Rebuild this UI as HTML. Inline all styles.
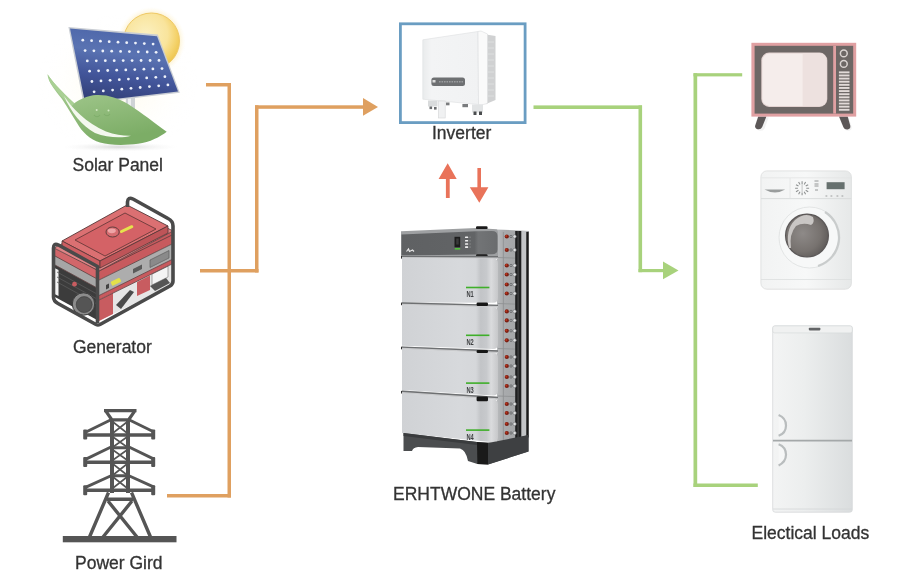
<!DOCTYPE html>
<html><head><meta charset="utf-8">
<style>
html,body{margin:0;padding:0;background:#fff;}
body{width:900px;height:580px;overflow:hidden;position:relative;}
svg{position:absolute;left:0;top:0;}
text{font-family:"Liberation Sans",sans-serif;font-size:17.5px;fill:#333;stroke:#333;stroke-width:0.3px;}
svg{will-change:transform;}
</style></head>
<body>
<svg width="900" height="580" viewBox="0 0 900 580">
<!-- orange lines -->
<g fill="#DFA060">
<rect x="206" y="83" width="25" height="3.5"/>
<rect x="227.5" y="83" width="3.5" height="414.5"/>
<rect x="167" y="494" width="64" height="3.5"/>
<rect x="200" y="269" width="58.5" height="3.5"/>
<rect x="255" y="105.3" width="3.5" height="167.2"/>
<rect x="255" y="105.3" width="110" height="3.5"/>
<polygon points="363,98 378,107 363,115.8"/>
</g>
<!-- green lines -->
<g fill="#A8D27C">
<rect x="533.5" y="105.4" width="108.5" height="3.6"/>
<rect x="638.5" y="105.4" width="3.6" height="166.8"/>
<rect x="638.5" y="269" width="26" height="3.2"/>
<polygon points="663,261.5 678.5,270.6 663,279.3"/>
<rect x="693.5" y="73.2" width="3.7" height="413.8"/>
<rect x="693.5" y="73.2" width="48.7" height="3.2"/>
<rect x="693.5" y="483.5" width="64.3" height="3.5"/>
</g>
<!-- red arrows -->
<g fill="#E9735A">
<polygon points="447.7,163.2 456.7,179.1 449.7,179.1 449.7,198.1 445.9,198.1 445.9,179.1 438.6,179.1"/>
<polygon points="477.4,168.1 481,168.1 481,187.3 488.4,187.3 479.3,202.8 469.8,187.3 477.4,187.3"/>
</g>
<!-- inverter box -->
<rect x="400.4" y="23.8" width="124.7" height="98.8" fill="none" stroke="#6A9DC2" stroke-width="2.8"/>
<!-- tower -->
<g stroke="#555" fill="none" stroke-linecap="butt">
<path d="M104,410.6 H136.5 M105.5,410.6 L112,420 M135,410.6 L128.5,420 M111,419.8 H129.5" stroke-width="3.2"/>
<path d="M112,419 V493 M128,419 V493" stroke-width="4"/>
<path d="M113,422 L127,433 M127,422 L113,433 M113,437 L127,447 M127,437 L113,447 M113,450 L127,460 M127,450 L113,460 M113,464 L127,475 M127,464 L113,475 M113,477 L127,488 M127,477 L113,488" stroke-width="1.6"/>
<path d="M84,435 H155 M84,462.2 H155 M84,490.3 H155" stroke-width="3.6"/>
<path d="M86,432 L111.5,419.5 M154,432 L128.5,419.5 M86,459.2 L111,447 M154,459.2 L129,447 M86,487.2 L110.5,476 M154,487.2 L129.5,476 M111,447.8 H129 M111,475.8 H129" stroke-width="3"/>
<path d="M108.5,492.5 L89.5,537 M131.5,492.5 L150.5,537 M107,499.3 H133 M108,501 L137,537 M132,501 L103,537" stroke-width="3.4"/>
</g>
<g fill="#555">
<rect x="83.2" y="429.6" width="4" height="10" rx="1"/><rect x="151.2" y="429.6" width="4" height="10" rx="1"/>
<rect x="83.2" y="457" width="4" height="10" rx="1"/><rect x="151.2" y="457" width="4" height="10" rx="1"/>
<rect x="83.2" y="485.2" width="4" height="10" rx="1"/><rect x="151.2" y="485.2" width="4" height="10" rx="1"/>
<rect x="62.8" y="536" width="113.7" height="6.3"/>
</g>
<!-- battery -->
<defs>
<linearGradient id="modg" x1="0" x2="1" y1="0" y2="0">
<stop offset="0" stop-color="#D0D2D5"/><stop offset="0.6" stop-color="#D7D9DC"/><stop offset="0.77" stop-color="#D5D7DA"/><stop offset="0.82" stop-color="#C2C4C7"/><stop offset="0.88" stop-color="#C7C9CC"/><stop offset="0.93" stop-color="#DADBDD"/><stop offset="1" stop-color="#C6C7C9"/>
</linearGradient>
<linearGradient id="topg" x1="0" x2="1" y1="0" y2="0">
<stop offset="0" stop-color="#5F6163"/><stop offset="0.76" stop-color="#626466"/><stop offset="0.8" stop-color="#727476"/><stop offset="1" stop-color="#6A6C6E"/>
</linearGradient>
<linearGradient id="sideg" x1="0" x2="1" y1="0" y2="0">
<stop offset="0" stop-color="#B9BBBD"/><stop offset="0.2" stop-color="#A9ABAD"/><stop offset="1" stop-color="#9FA1A3"/>
</linearGradient>
</defs>

<polygon points="497,229.5 529,231 529,438 497,444" fill="url(#sideg)"/>
<rect x="515.2" y="231" width="6.3" height="207" fill="#1E1F20"/>
<rect x="517.3" y="231" width="1.6" height="207" fill="#3A3B3C"/>
<rect x="521.5" y="231" width="5" height="206" fill="#C3C5C7"/>
<rect x="526.3" y="232" width="2.3" height="205" fill="#1A1A1A"/>
<line x1="498" y1="257.5" x2="515" y2="258.1" stroke="#8E9092" stroke-width="0.8"/>
<line x1="498" y1="303.5" x2="515" y2="304.1" stroke="#8E9092" stroke-width="0.8"/>
<line x1="498" y1="348.5" x2="515" y2="349.1" stroke="#8E9092" stroke-width="0.8"/>
<line x1="498" y1="396" x2="515" y2="396.6" stroke="#8E9092" stroke-width="0.8"/>
<line x1="498" y1="442" x2="515" y2="442.6" stroke="#8E9092" stroke-width="0.8"/>
<line x1="503.4" y1="232" x2="503.4" y2="442" stroke="#8F9193" stroke-width="0.8"/>
<circle cx="506.8" cy="236.5" r="2.1" fill="#7A1E12"/><circle cx="506.3" cy="236.1" r="1.1" fill="#B8361E"/>
<circle cx="511" cy="236.5" r="1.2" fill="none" stroke="#5A5C5E" stroke-width="0.7"/><circle cx="514.6" cy="236.5" r="1.7" fill="#E2E3E4" stroke="#6A6C6E" stroke-width="0.6"/>
<circle cx="506.8" cy="250.0" r="2.1" fill="#7A1E12"/><circle cx="506.3" cy="249.6" r="1.1" fill="#B8361E"/>
<circle cx="511" cy="250.0" r="1.2" fill="none" stroke="#5A5C5E" stroke-width="0.7"/><circle cx="514.6" cy="250.0" r="1.7" fill="#E2E3E4" stroke="#6A6C6E" stroke-width="0.6"/>
<circle cx="506.8" cy="265.5" r="2.1" fill="#7A1E12"/><circle cx="506.3" cy="265.1" r="1.1" fill="#B8361E"/>
<circle cx="511" cy="265.5" r="1.2" fill="none" stroke="#5A5C5E" stroke-width="0.7"/><circle cx="514.6" cy="265.5" r="1.7" fill="#E2E3E4" stroke="#6A6C6E" stroke-width="0.6"/>
<circle cx="506.8" cy="274.5" r="2.1" fill="#7A1E12"/><circle cx="506.3" cy="274.1" r="1.1" fill="#B8361E"/>
<circle cx="511" cy="274.5" r="1.2" fill="none" stroke="#5A5C5E" stroke-width="0.7"/><circle cx="514.6" cy="274.5" r="1.7" fill="#E2E3E4" stroke="#6A6C6E" stroke-width="0.6"/>
<circle cx="506.8" cy="284.5" r="2.1" fill="#7A1E12"/><circle cx="506.3" cy="284.1" r="1.1" fill="#B8361E"/>
<circle cx="511" cy="284.5" r="1.2" fill="none" stroke="#5A5C5E" stroke-width="0.7"/><circle cx="514.6" cy="284.5" r="1.7" fill="#E2E3E4" stroke="#6A6C6E" stroke-width="0.6"/>
<circle cx="506.8" cy="293.5" r="2.1" fill="#7A1E12"/><circle cx="506.3" cy="293.1" r="1.1" fill="#B8361E"/>
<circle cx="511" cy="293.5" r="1.2" fill="none" stroke="#5A5C5E" stroke-width="0.7"/><circle cx="514.6" cy="293.5" r="1.7" fill="#E2E3E4" stroke="#6A6C6E" stroke-width="0.6"/>
<circle cx="506.8" cy="311.4" r="2.1" fill="#7A1E12"/><circle cx="506.3" cy="311.0" r="1.1" fill="#B8361E"/>
<circle cx="511" cy="311.4" r="1.2" fill="none" stroke="#5A5C5E" stroke-width="0.7"/><circle cx="514.6" cy="311.4" r="1.7" fill="#E2E3E4" stroke="#6A6C6E" stroke-width="0.6"/>
<circle cx="506.8" cy="320.4" r="2.1" fill="#7A1E12"/><circle cx="506.3" cy="320.0" r="1.1" fill="#B8361E"/>
<circle cx="511" cy="320.4" r="1.2" fill="none" stroke="#5A5C5E" stroke-width="0.7"/><circle cx="514.6" cy="320.4" r="1.7" fill="#E2E3E4" stroke="#6A6C6E" stroke-width="0.6"/>
<circle cx="506.8" cy="330.8" r="2.1" fill="#7A1E12"/><circle cx="506.3" cy="330.40000000000003" r="1.1" fill="#B8361E"/>
<circle cx="511" cy="330.8" r="1.2" fill="none" stroke="#5A5C5E" stroke-width="0.7"/><circle cx="514.6" cy="330.8" r="1.7" fill="#E2E3E4" stroke="#6A6C6E" stroke-width="0.6"/>
<circle cx="506.8" cy="340.3" r="2.1" fill="#7A1E12"/><circle cx="506.3" cy="339.90000000000003" r="1.1" fill="#B8361E"/>
<circle cx="511" cy="340.3" r="1.2" fill="none" stroke="#5A5C5E" stroke-width="0.7"/><circle cx="514.6" cy="340.3" r="1.7" fill="#E2E3E4" stroke="#6A6C6E" stroke-width="0.6"/>
<circle cx="506.8" cy="357" r="2.1" fill="#7A1E12"/><circle cx="506.3" cy="356.6" r="1.1" fill="#B8361E"/>
<circle cx="511" cy="357" r="1.2" fill="none" stroke="#5A5C5E" stroke-width="0.7"/><circle cx="514.6" cy="357" r="1.7" fill="#E2E3E4" stroke="#6A6C6E" stroke-width="0.6"/>
<circle cx="506.8" cy="366" r="2.1" fill="#7A1E12"/><circle cx="506.3" cy="365.6" r="1.1" fill="#B8361E"/>
<circle cx="511" cy="366" r="1.2" fill="none" stroke="#5A5C5E" stroke-width="0.7"/><circle cx="514.6" cy="366" r="1.7" fill="#E2E3E4" stroke="#6A6C6E" stroke-width="0.6"/>
<circle cx="506.8" cy="377" r="2.1" fill="#7A1E12"/><circle cx="506.3" cy="376.6" r="1.1" fill="#B8361E"/>
<circle cx="511" cy="377" r="1.2" fill="none" stroke="#5A5C5E" stroke-width="0.7"/><circle cx="514.6" cy="377" r="1.7" fill="#E2E3E4" stroke="#6A6C6E" stroke-width="0.6"/>
<circle cx="506.8" cy="386" r="2.1" fill="#7A1E12"/><circle cx="506.3" cy="385.6" r="1.1" fill="#B8361E"/>
<circle cx="511" cy="386" r="1.2" fill="none" stroke="#5A5C5E" stroke-width="0.7"/><circle cx="514.6" cy="386" r="1.7" fill="#E2E3E4" stroke="#6A6C6E" stroke-width="0.6"/>
<circle cx="506.8" cy="404" r="2.1" fill="#7A1E12"/><circle cx="506.3" cy="403.6" r="1.1" fill="#B8361E"/>
<circle cx="511" cy="404" r="1.2" fill="none" stroke="#5A5C5E" stroke-width="0.7"/><circle cx="514.6" cy="404" r="1.7" fill="#E2E3E4" stroke="#6A6C6E" stroke-width="0.6"/>
<circle cx="506.8" cy="413" r="2.1" fill="#7A1E12"/><circle cx="506.3" cy="412.6" r="1.1" fill="#B8361E"/>
<circle cx="511" cy="413" r="1.2" fill="none" stroke="#5A5C5E" stroke-width="0.7"/><circle cx="514.6" cy="413" r="1.7" fill="#E2E3E4" stroke="#6A6C6E" stroke-width="0.6"/>
<circle cx="506.8" cy="424" r="2.1" fill="#7A1E12"/><circle cx="506.3" cy="423.6" r="1.1" fill="#B8361E"/>
<circle cx="511" cy="424" r="1.2" fill="none" stroke="#5A5C5E" stroke-width="0.7"/><circle cx="514.6" cy="424" r="1.7" fill="#E2E3E4" stroke="#6A6C6E" stroke-width="0.6"/>
<circle cx="506.8" cy="433" r="2.1" fill="#7A1E12"/><circle cx="506.3" cy="432.6" r="1.1" fill="#B8361E"/>
<circle cx="511" cy="433" r="1.2" fill="none" stroke="#5A5C5E" stroke-width="0.7"/><circle cx="514.6" cy="433" r="1.7" fill="#E2E3E4" stroke="#6A6C6E" stroke-width="0.6"/>
<polygon points="401,231.3 476,228 497,229.3 498,232 498,256 401,257" fill="#9EA0A2"/>
<path d="M401.5,234.4 L476,231.2 L492,231 Q497.5,231 497.5,236 L497.5,249.5 Q497.5,254.2 492,254.2 L401.5,255.6 Z" fill="url(#topg)"/>
<rect x="476" y="226.3" width="11.6" height="2.8" rx="1.2" fill="#1A1A1A"/>
<rect x="476" y="254.3" width="11.6" height="3.4" rx="1.2" fill="#1A1A1A"/>
<rect x="454.5" y="236.8" width="5.7" height="10.5" fill="#1C1C1C"/><rect x="456.2" y="238.5" width="2.5" height="6" fill="#3A3A3A"/>
<rect x="454.8" y="248" width="5.4" height="1.6" fill="#55C040"/>
<rect x="465" y="236.4" width="3.2" height="1.6" rx="0.6" fill="#F0F0F0"/><rect x="469.5" y="236.6" width="1.2" height="1.2" fill="#8A8C8E"/>
<rect x="465" y="240.0" width="3.2" height="1.6" rx="0.6" fill="#F0F0F0"/><rect x="469.5" y="240.2" width="1.2" height="1.2" fill="#8A8C8E"/>
<rect x="465" y="243.2" width="3.2" height="1.6" rx="0.6" fill="#F0F0F0"/><rect x="469.5" y="243.39999999999998" width="1.2" height="1.2" fill="#8A8C8E"/>
<rect x="465" y="246.3" width="3.2" height="1.6" rx="0.6" fill="#F0F0F0"/><rect x="469.5" y="246.5" width="1.2" height="1.2" fill="#8A8C8E"/>
<path d="M406.5,251.5 l2,-2.5 l1,2.5 l3,-1.5 l1.5,1.5" stroke="#E8E8E8" stroke-width="1.2" fill="none"/>
<rect x="401.0" y="256.0" width="1.6" height="2.6" fill="#333"/>
<polygon points="402.0,255.70000000000002 498.0,256.0 498.0,259.1 402.0,258.8" fill="#C9CACC"/>
<polygon points="402.0,255.70000000000002 498.0,256.0 498.0,257.40000000000003 402.0,257.1" fill="#6E7072"/>
<path d="M402.0,258.3 L493.0,258.6 Q498.0,258.6 498.0,263.6 L498.0,297.8 Q498.0,302.8 493.0,302.8 L402.0,302.4 Z" fill="url(#modg)"/>
<rect x="466" y="286.7" width="23.4" height="1.6" fill="#3FAF2A"/>
<text x="466.5" y="297.0" textLength="7.3" lengthAdjust="spacingAndGlyphs" style="font-size:8.3px;font-weight:bold;fill:#404244;stroke:none">N1</text>
<rect x="401.0" y="302.59999999999997" width="1.6" height="2.6" fill="#333"/>
<polygon points="402.0,302.29999999999995 498.0,304.7 498.0,307.8 402.0,305.4" fill="#C9CACC"/>
<polygon points="402.0,302.29999999999995 498.0,304.7 498.0,306.1 402.0,303.7" fill="#6E7072"/>
<path d="M402.0,304.9 L493.0,307.3 Q498.0,307.3 498.0,312.3 L498.0,344.1 Q498.0,349.1 493.0,349.1 L402.0,345.8 Z" fill="url(#modg)"/>
<rect x="466" y="334.5" width="23.4" height="1.6" fill="#3FAF2A"/>
<text x="466.5" y="344.8" textLength="7.3" lengthAdjust="spacingAndGlyphs" style="font-size:8.3px;font-weight:bold;fill:#404244;stroke:none">N2</text>
<rect x="401.0" y="346.7" width="1.6" height="2.6" fill="#333"/>
<polygon points="402.0,346.4 498.0,350.29999999999995 498.0,353.4 402.0,349.5" fill="#C9CACC"/>
<polygon points="402.0,346.4 498.0,350.29999999999995 498.0,351.7 402.0,347.8" fill="#6E7072"/>
<path d="M402.0,349.0 L493.0,352.9 Q498.0,352.9 498.0,357.9 L498.0,390.5 Q498.0,395.5 493.0,395.5 L402.0,389.9 Z" fill="url(#modg)"/>
<rect x="466" y="382.3" width="23.4" height="1.6" fill="#3FAF2A"/>
<text x="466.5" y="392.6" textLength="7.3" lengthAdjust="spacingAndGlyphs" style="font-size:8.3px;font-weight:bold;fill:#404244;stroke:none">N3</text>
<rect x="401.0" y="390.9" width="1.6" height="2.6" fill="#333"/>
<polygon points="402.0,390.59999999999997 498.0,396.79999999999995 498.0,399.9 402.0,393.7" fill="#C9CACC"/>
<polygon points="402.0,390.59999999999997 498.0,396.79999999999995 498.0,398.2 402.0,392.0" fill="#6E7072"/>
<path d="M402.0,393.2 L493.0,399.4 Q498.0,399.4 498.0,404.4 L498.0,437.2 Q498.0,442.2 493.0,442.2 L402.0,432.9 Z" fill="url(#modg)"/>
<rect x="466" y="429.3" width="23.4" height="1.6" fill="#3FAF2A"/>
<text x="466.5" y="439.6" textLength="7.3" lengthAdjust="spacingAndGlyphs" style="font-size:8.3px;font-weight:bold;fill:#404244;stroke:none">N4</text>
<rect x="476.6" y="302.6" width="11.4" height="3.4" rx="1.2" fill="#161616"/>
<rect x="476.6" y="350" width="11.4" height="2.9" rx="1.2" fill="#161616"/>
<rect x="476.6" y="396.5" width="11.4" height="4.7" rx="1.2" fill="#161616"/>
<path d="M403.5,433 L477,442 L497,443 L528.5,435 L528.5,451.5 L488,464.5 L477.4,464 L468,461 Q466,450 460,448.4 L418,446.9 Q413,447.5 412,451 L403.5,451 Z" fill="#4B4D4F"/>
<path d="M477,442 L488,443 L488,464.5 L477.4,464 Z" fill="#1A1A1A"/><path d="M488,443 L528.5,435 L528.5,451.5 L488,464.5 Z" fill="#3E4042"/>
<path d="M403.5,433 L477,442 L477,445 L403.5,436 Z" fill="#3A3C3E"/>
<!-- /battery -->
<!-- solar -->
<defs>
<radialGradient id="sunglow" cx="0.5" cy="0.5" r="0.5">
<stop offset="0.75" stop-color="#FBE9B0" stop-opacity="0.9"/><stop offset="1" stop-color="#FFF8E4" stop-opacity="0"/>
</radialGradient>
<radialGradient id="sung" cx="0.4" cy="0.38" r="0.65">
<stop offset="0" stop-color="#FBF0C0"/><stop offset="0.6" stop-color="#F9E49C"/><stop offset="0.85" stop-color="#F4D26A"/><stop offset="1" stop-color="#EEC650"/>
</radialGradient>
<linearGradient id="panelg" x1="0.35" y1="0" x2="0.15" y2="1">
<stop offset="0" stop-color="#4E67AA"/><stop offset="0.3" stop-color="#5A73B2"/><stop offset="0.62" stop-color="#42559A"/><stop offset="1" stop-color="#303C72"/>
</linearGradient>
<linearGradient id="leafg" x1="0" y1="0" x2="0.35" y2="1">
<stop offset="0" stop-color="#A8CE94"/><stop offset="0.45" stop-color="#97C082"/><stop offset="1" stop-color="#7CAD66"/>
</linearGradient>
<radialGradient id="bgglow" cx="0.5" cy="0.5" r="0.5"><stop offset="0" stop-color="#FFFBEA"/><stop offset="1" stop-color="#FFFFFF" stop-opacity="0"/></radialGradient>
<radialGradient id="shadowg" cx="0.5" cy="0.5" r="0.5">
<stop offset="0" stop-color="#D8D8D8"/><stop offset="1" stop-color="#F4F4F4" stop-opacity="0"/>
</radialGradient>
</defs>
<ellipse cx="118" cy="85" rx="80" ry="70" fill="url(#bgglow)"/>
<circle cx="151.5" cy="41" r="34" fill="url(#sunglow)"/>
<circle cx="151.5" cy="41" r="28" fill="url(#sung)" stroke="#EEC865" stroke-width="1"/>
<ellipse cx="120" cy="147" rx="58" ry="4.5" fill="url(#shadowg)"/>
<rect x="125.8" y="92" width="9.2" height="19" fill="#CFD3D6"/><rect x="128" y="92" width="3" height="19" fill="#EEF0F1"/>
<polygon points="68.4,27 157.8,34.6 179.8,92.8 83.6,104" fill="#C9CDD3"/>
<polygon points="70,28.6 157,36.2 178,91.4 85,102.4" fill="url(#panelg)"/>

<g fill="#EEF2FA"><circle cx="82.8" cy="40.2" r="1.4"/><circle cx="91.6" cy="40.7" r="1.4"/><circle cx="100.4" cy="41.2" r="1.4"/><circle cx="109.2" cy="41.7" r="1.4"/><circle cx="118.0" cy="42.2" r="1.4"/><circle cx="126.7" cy="42.7" r="1.4"/><circle cx="135.5" cy="43.1" r="1.4"/><circle cx="144.3" cy="43.6" r="1.4"/><circle cx="153.1" cy="44.1" r="1.4"/><circle cx="85.1" cy="50.6" r="1.4"/><circle cx="93.9" cy="50.8" r="1.4"/><circle cx="102.8" cy="51.0" r="1.4"/><circle cx="111.7" cy="51.2" r="1.4"/><circle cx="120.6" cy="51.4" r="1.4"/><circle cx="129.4" cy="51.6" r="1.4"/><circle cx="138.3" cy="51.8" r="1.4"/><circle cx="147.2" cy="52.0" r="1.4"/><circle cx="156.1" cy="52.3" r="1.4"/><circle cx="87.3" cy="60.9" r="1.4"/><circle cx="96.3" cy="60.8" r="1.4"/><circle cx="105.3" cy="60.7" r="1.4"/><circle cx="114.2" cy="60.7" r="1.4"/><circle cx="123.2" cy="60.6" r="1.4"/><circle cx="132.1" cy="60.6" r="1.4"/><circle cx="141.1" cy="60.5" r="1.4"/><circle cx="150.1" cy="60.5" r="1.4"/><circle cx="159.0" cy="60.4" r="1.4"/><circle cx="89.6" cy="71.2" r="1.4"/><circle cx="98.6" cy="70.8" r="1.4"/><circle cx="107.7" cy="70.5" r="1.4"/><circle cx="116.7" cy="70.2" r="1.4"/><circle cx="125.8" cy="69.9" r="1.4"/><circle cx="134.8" cy="69.6" r="1.4"/><circle cx="143.9" cy="69.2" r="1.4"/><circle cx="152.9" cy="68.9" r="1.4"/><circle cx="162.0" cy="68.6" r="1.4"/><circle cx="91.9" cy="81.5" r="1.4"/><circle cx="101.0" cy="80.9" r="1.4"/><circle cx="110.1" cy="80.3" r="1.4"/><circle cx="119.3" cy="79.7" r="1.4"/><circle cx="128.4" cy="79.1" r="1.4"/><circle cx="137.5" cy="78.5" r="1.4"/><circle cx="146.7" cy="77.9" r="1.4"/><circle cx="155.8" cy="77.3" r="1.4"/><circle cx="164.9" cy="76.7" r="1.4"/><circle cx="94.1" cy="91.8" r="1.4"/><circle cx="103.3" cy="90.9" r="1.4"/><circle cx="112.6" cy="90.1" r="1.4"/><circle cx="121.8" cy="89.2" r="1.4"/><circle cx="131.0" cy="88.3" r="1.4"/><circle cx="140.2" cy="87.5" r="1.4"/><circle cx="149.4" cy="86.6" r="1.4"/><circle cx="158.7" cy="85.8" r="1.4"/><circle cx="167.9" cy="84.9" r="1.4"/></g>
<path d="M47.5,74.2 C51,80 60,90 74.2,103.3 C80,99 88,95.5 96,95 C108,94.5 118,98 128,104 C142,113 156,124 166.7,131.7 C160,137 150,142 138,143.8 C125,145.5 110,145.5 100,142.5 C90,139.5 82,132 77,123 C72,115 68,108 62,99 C55,90 48,82 47.5,74.2 Z" fill="url(#leafg)"/>
<path d="M47.5,74.2 C51,80 60,90 74.2,103.3 C73,105 72,106 71,107 C63,98 55,90 50,82 Z" fill="#A9D094"/>
<path d="M64,96 C72,108 86,123 106,131.5 C115,135 124,136 131,135.8 C121,138.6 107,137.5 95,133 C82,126 71,112 64,96 Z" fill="#F4F8EF"/>
<path d="M94,115 q3,3.5 6,0 M104,114 q3,3.5 6,0" stroke="#7FAE6A" stroke-width="1.1" fill="none"/>
<circle cx="96.7" cy="110" r="1" fill="#D2E8C2"/><circle cx="108.5" cy="110.5" r="1" fill="#D2E8C2"/>

<!-- /solar -->
<!-- generator -->
<g stroke-linejoin="round">
<!-- left face -->
<polygon points="54,248 99,271 99,280 54,257" fill="#D2666A"/>
<polygon points="55,256 99,280 99,289 55,265" fill="#A6A6A6"/>
<polygon points="55,265 99,289 99,321 55,297" fill="#3C3C3C"/>
<polygon points="54.5,268 58.5,270 58.5,296 54.5,294" fill="#F4F4F4"/>
<path d="M57,272 L97,294 M57,277 L97,299 M57,282 L97,304" stroke="#5A5A5A" stroke-width="0.8"/>
<path d="M55,247 L99,271 M55,256 L99,280 M55,265 L99,289" stroke="#5A3C3C" stroke-width="0.8"/>
<!-- right face -->
<polygon points="99,271 173,231 172,244 99,280" fill="#C85A5E"/>
<polygon points="99,280 172,244 172,259.5 99,295.5" fill="#ADADAD"/>
<polygon points="99,295.5 172,259.5 172,264 99,300" fill="#C85A5E"/>
<polygon points="99,300 172,264 172,285 99,321" fill="#E6E6E6"/>
<polygon points="99,300 113,293 113,314 99,321" fill="#C85C60"/>
<polygon points="137,282 150,275.5 150,290 137,296" fill="#C85C60"/>
<polygon points="116,305 130,290 134,292 121,309" fill="#4A4A4A"/>
<polygon points="152,274 168,266 168,277 152,285" fill="#F4F4F4" stroke="#777" stroke-width="0.6"/>
<polygon points="150,286 166,278 170,283 155,291" fill="#555"/>
<path d="M99,271 L172,235 M99,280 L172,244 M99,295.5 L172,259.5 M99,300 L172,264" stroke="#5A3C3C" stroke-width="0.8"/>
<rect x="0" y="0" width="10" height="4.5" rx="1" fill="#E3E04A" transform="translate(110.5,282) rotate(-26)"/>
<polygon points="106,285 109,283.5 109,288 106,289.5" fill="#444"/>
<polygon points="133,269 142,264.5 142,269 133,273.5" fill="#5A5A5A"/>
<polygon points="150,260 169,250.5 169,258 150,267.5" fill="#8A8A8A" stroke="#555" stroke-width="0.6"/>
<!-- lid top face -->
<polygon points="54,248 129,208 173,231 99,271" fill="#E08486" stroke="#553838" stroke-width="0.8"/>
<polygon points="62,241 127,205 168,226 100,261" fill="#DB7072" stroke="#553838" stroke-width="0.9"/>
<polygon points="62,241 100,261 100,268 62,248" fill="#CC5E62" stroke="#553838" stroke-width="0.8"/>
<polygon points="100,261 168,226 168,233 100,268" fill="#BE5458" stroke="#553838" stroke-width="0.8"/>
<polygon points="75,240 125,213 156,229 105,256" fill="#D46266" stroke="#6A3A3A" stroke-width="0.9"/>
<ellipse cx="112.6" cy="232" rx="6.6" ry="5" fill="#D66C70" stroke="#553838" stroke-width="0.9"/>
<ellipse cx="111.8" cy="230.8" rx="4" ry="2.4" fill="#EEA4A6"/>
<path d="M121.5,231.5 L131.8,226.7" stroke="#E6E24C" stroke-width="3" stroke-linecap="round"/>
<!-- muffler -->
<circle cx="83.5" cy="304" r="11.2" fill="#8C8C8C" stroke="#3A3A3A" stroke-width="1"/>
<circle cx="84.2" cy="304.6" r="8" fill="#555555" stroke="#3A3A3A" stroke-width="0.6"/>
<circle cx="74.5" cy="284.2" r="2.4" fill="#C85C60"/>
<!-- frame -->
<path d="M53.5,297 L53.5,248 Q53.5,242.5 58.5,245 L97.5,266.5 L97.5,323 M53.5,297 Q53.5,301 58,303.5 L96,324.5 Q98,325.5 100,324.5 L170,286 Q173,284 173,281 L173,226 Q173,221 168,218.5 L133,199 Q128,196.5 127.5,202 L127.5,207" stroke="#4A4A4A" stroke-width="3.6" fill="none"/>
</g>
<!-- /generator -->
<!-- loads -->
<defs>
<linearGradient id="wmg" x1="0" x2="1" y1="0" y2="0"><stop offset="0" stop-color="#F2F3F3"/><stop offset="0.5" stop-color="#F7F8F8"/><stop offset="1" stop-color="#E6E8E8"/></linearGradient>
<radialGradient id="glassg" cx="0.4" cy="0.45" r="0.6"><stop offset="0" stop-color="#8E8A88"/><stop offset="0.7" stop-color="#77726F"/><stop offset="1" stop-color="#625E5C"/></radialGradient>
<linearGradient id="frg" x1="0" x2="1" y1="0" y2="0"><stop offset="0" stop-color="#F3F4F4"/><stop offset="0.4" stop-color="#ECEEEE"/><stop offset="1" stop-color="#DADDDE"/></linearGradient>
</defs>
<path d="M759.5,116.5 L767.5,116.5 L763.5,127.5 Q762,130.5 758.5,130 Q754.8,129.2 755.5,126 Z" fill="#F2F2F2" transform="translate(1.2,0.8)"/>
<path d="M758.2,116.5 L766.4,116.5 L762.2,127 Q761,129.6 758,129.2 Q754.6,128.6 755.2,125.6 Z" fill="#5C5757"/>
<path d="M839,116.5 L847.7,116.5 L850.6,126 Q851.2,129.4 847.8,130 Q844.6,130.4 843.4,127.6 Z" fill="#F2F2F2" transform="translate(1,0.8)"/>
<path d="M839,116.5 L847.7,116.5 L850.3,125.8 Q850.8,129 847.6,129.5 Q844.5,129.8 843.4,127.2 Z" fill="#5C5757"/>
<rect x="751.4" y="42.8" width="104.8" height="73.8" fill="#E0A0A2"/>
<rect x="754.6" y="45.8" width="98.6" height="67.8" fill="#6D6765"/>
<rect x="833.2" y="45.8" width="2.8" height="67.8" fill="#E0A0A2"/>
<rect x="761.3" y="52.6" width="66" height="54.3" rx="7.8" fill="#E3D3D1"/>
<rect x="762.3" y="53.6" width="64" height="52.3" rx="7" fill="#F5EDEB"/>
<path d="M802.6,53.6 H819.3 Q826.3,53.6 826.3,60.6 V98.9 Q826.3,105.9 819.3,105.9 H802.6 Z" fill="#EDE1DF"/>
<circle cx="843.8" cy="53.4" r="3.4" fill="none" stroke="#DAD3D1" stroke-width="1.5"/>
<circle cx="843.8" cy="63.9" r="3.4" fill="none" stroke="#DAD3D1" stroke-width="1.5"/>

<rect x="838.9" y="71.40" width="10.6" height="1.9" fill="#E2DAD8"/><rect x="838.9" y="74.52" width="10.6" height="1.9" fill="#E2DAD8"/><rect x="838.9" y="77.64" width="10.6" height="1.9" fill="#E2DAD8"/><rect x="838.9" y="80.76" width="10.6" height="1.9" fill="#E2DAD8"/><rect x="838.9" y="83.88" width="10.6" height="1.9" fill="#E2DAD8"/><rect x="838.9" y="87.00" width="10.6" height="1.9" fill="#E2DAD8"/><rect x="838.9" y="90.12" width="10.6" height="1.9" fill="#E2DAD8"/><rect x="838.9" y="93.24" width="10.6" height="1.9" fill="#E2DAD8"/><rect x="838.9" y="96.36" width="10.6" height="1.9" fill="#E2DAD8"/><rect x="838.9" y="99.48" width="10.6" height="1.9" fill="#E2DAD8"/><rect x="838.9" y="102.60" width="10.6" height="1.9" fill="#E2DAD8"/><rect x="838.9" y="105.72" width="10.6" height="1.9" fill="#E2DAD8"/><rect x="838.9" y="108.84" width="10.6" height="1.9" fill="#E2DAD8"/>
<rect x="760.9" y="170.9" width="90.5" height="118.3" rx="6" fill="url(#wmg)" stroke="#DADCDC" stroke-width="0.8"/>
<path d="M761,198.6 H851.3" stroke="#D8DADA" stroke-width="0.9"/>
<path d="M761.5,177.8 H851" stroke="#E2E4E4" stroke-width="0.8"/>
<path d="M790,178 V198.6" stroke="#E2E4E4" stroke-width="0.8"/>
<path d="M764.5,189.5 Q775,195.5 785.2,189.5 Z" fill="#9A9D9D"/>
<path d="M806.3,188.2 L809.1,188.2 M805.7,190.3 L808.2,191.7 M804.2,191.8 L805.6,194.3 M802.1,192.4 L802.1,195.2 M800.0,191.8 L798.6,194.3 M798.5,190.3 L796.0,191.7 M797.9,188.2 L795.1,188.2 M798.5,186.1 L796.0,184.7 M800.0,184.6 L798.6,182.1 M802.1,184.0 L802.1,181.2 M804.2,184.6 L805.6,182.1 M805.7,186.1 L808.2,184.7" stroke="#8E9191" stroke-width="1.1"/>
<path d="M802.1,184 V192" stroke="#B5B8B8" stroke-width="0.8"/>
<path d="M814.5,181 h4 M814.5,184 h4 M814.5,186 h4 M815,190 h3" stroke="#8A8C8C" stroke-width="0.9"/>
<rect x="826.6" y="182.2" width="18" height="7" fill="#66706E"/>
<path d="M825.5,196 h1.8 M830.5,196 h1.8 M836.5,196 h1.8 M841.5,196 h1.8" stroke="#9A9C9C" stroke-width="1"/>
<path d="M761,279.5 H851.3" stroke="#DCDEDE" stroke-width="0.8"/>
<circle cx="809.5" cy="237.5" r="30.5" fill="#F7F8F8" stroke="#E3E5E5" stroke-width="1"/>
<path d="M825,212 A30,30 0 0 1 818,266" stroke="#C9CCCC" stroke-width="2.2" fill="none"/>
<circle cx="807" cy="235.6" r="22.6" fill="#ECEEEE"/>
<circle cx="807" cy="235.6" r="21.4" fill="url(#glassg)" stroke="#5A5656" stroke-width="1.2"/>
<path d="M789,248 Q785,230 795,220 Q805,212 813,217 Q815,223 811,225 Q803,222 796,226 Q789,234 791,248 Z" fill="#C9C6C4"/>

<rect x="772.7" y="325.9" width="79.6" height="186.3" rx="2.5" fill="url(#frg)" stroke="#D5D8D9" stroke-width="0.8"/>
<rect x="772.7" y="325.9" width="79.6" height="7" rx="2" fill="#F0F1F1" stroke="#D3D6D7" stroke-width="0.6"/>
<rect x="808.8" y="327.8" width="11.6" height="2.6" rx="0.8" fill="#626466"/>
<path d="M773,440.6 H852" stroke="#A4A8A9" stroke-width="1.6"/>
<path d="M773,509 H852" stroke="#D3D6D7" stroke-width="0.8"/>
<path d="M778.6,415 Q786,418 786,425.4 Q786,433 778.6,435.8" stroke="#B9BDBE" stroke-width="2.2" fill="#F6F7F7"/>
<path d="M778.6,444.2 Q786,447 786,454.6 Q786,462 778.6,465.5" stroke="#B9BDBE" stroke-width="2.2" fill="#F6F7F7"/>

<!-- /loads -->
<!-- inverter -->
<defs>
<linearGradient id="invg" x1="0" x2="1" y1="0" y2="0"><stop offset="0" stop-color="#E9EBEC"/><stop offset="0.15" stop-color="#F3F4F5"/><stop offset="1" stop-color="#F1F2F3"/></linearGradient>
</defs>
<polygon points="486,34.5 495.5,36 495.5,100 486,104" fill="#D0D1D2"/>
<g stroke="#E4E5E6" stroke-width="0.7">
<path d="M488,42 H494 M488,48 H494 M488,54 H494 M488,60 H494 M488,66 H494 M488,72 H494 M488,78 H494 M488,84 H494 M488,90 H494 M488,96 H494"/>
</g>
<polygon points="422.8,39.8 478,31.5 478.5,104.5 422.8,99.2" fill="url(#invg)" stroke="#DDDFE0" stroke-width="0.6"/>
<polygon points="478,31.5 481,31 487.5,34 487.5,103.5 481,105 478.5,104.5" fill="#FAFAFA" stroke="#DCDEDF" stroke-width="0.6"/>
<rect x="431.4" y="77.4" width="33.6" height="8.6" rx="2.5" fill="#6E7072"/>
<rect x="432.5" y="80" width="3" height="2.5" fill="#DDD"/>
<path d="M439,81.7 H463" stroke="#9A9C9E" stroke-width="1.6" stroke-dasharray="1.6 0.9"/>
<rect x="428" y="100.5" width="9.5" height="6" fill="#D9DBDC"/>
<rect x="429.5" y="106.5" width="2.6" height="2.6" fill="#6A6C6E"/><rect x="434" y="107" width="2.6" height="2.6" fill="#6A6C6E"/>
<rect x="438.3" y="101" width="6.9" height="17" fill="#F0F1F2" stroke="#D5D7D8" stroke-width="0.6"/>
<rect x="446" y="102.5" width="3.5" height="2.8" fill="#7A7C7E"/>
<rect x="462.4" y="104" width="5.6" height="3.2" fill="#7A7C7E"/>
<rect x="472" y="104.5" width="11" height="8" fill="#E2E4E5"/>
<rect x="473.5" y="111.5" width="3" height="3.5" fill="#4A4C4E"/><rect x="479" y="111.5" width="3" height="3.5" fill="#4A4C4E"/>
<!-- /inverter -->
<!-- labels -->
<text x="72.5" y="171.3">Solar Panel</text>
<text x="73" y="352.9">Generator</text>
<text x="75" y="569.3">Power Gird</text>
<text x="432" y="139.2">Inverter</text>
<text x="393" y="500">ERHTWONE Battery</text>
<text x="751.5" y="538.6">Electical Loads</text>
</svg>
</body></html>
